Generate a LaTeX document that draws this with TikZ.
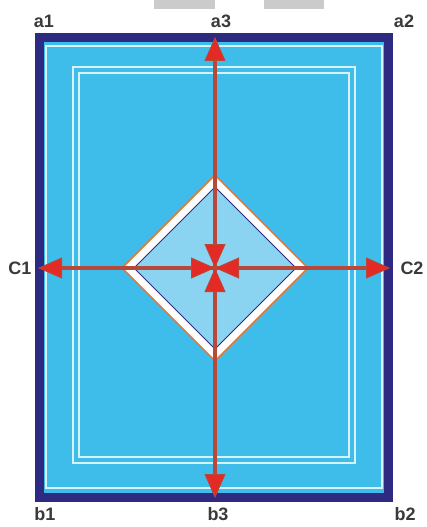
\documentclass[tikz,border=0pt]{standalone}
\usepackage{fontspec}
\setmainfont{Liberation Sans}
\usetikzlibrary{arrows.meta,positioning}
\usepackage{xcolor}
\definecolor{framenavy}{HTML}{2E2A82}
\definecolor{fieldblue}{HTML}{3EBDEA}
\definecolor{paleblue}{HTML}{8AD3F1}
\definecolor{lineglow}{HTML}{D8F2FB}
\definecolor{rimorange}{HTML}{DD7A3A}
\definecolor{raybrown}{HTML}{B8483A}
\definecolor{rayred}{HTML}{E42A24}
\definecolor{labelgray}{HTML}{3A3A3A}
\definecolor{tabgray}{HTML}{CBCBCB}

\begin{document}
\begin{tikzpicture}[
  x=1pt, y=-1pt,
  lbl/.style={font=\fontsize{18}{18}\selectfont\bfseries, text=labelgray, inner sep=0pt},
  ray/.style={line width=3.2pt, draw=raybrown, -{Triangle[length=24pt,width=21pt,line width=0.8pt,fill=rayred]}},
  glow/.style={draw=lineglow, line width=1.4pt}
]
\useasboundingbox[fill=white] (0,0) rectangle (426,527);
% tabs at the top edge
\fill[tabgray] (154,0) rectangle (215,9);
\fill[tabgray] (264,0) rectangle (324,9);

% frame
\draw[fill=fieldblue, draw=framenavy, line width=9pt] (39.5,37.5) rectangle (388.5,497.5);
\draw[glow] (46,46) rectangle (382,488);
\draw[glow] (73,67) rectangle (355,463);
\draw[glow] (79,73) rectangle (349,457);

% points
\coordinate (o) at (215,268);
\coordinate (a3tip) at (215,37);
\coordinate (b3tip) at (215,498);
\coordinate (c1tip) at (38,268);
\coordinate (c2tip) at (390,268);
\coordinate (dtop) at (215,175);
\coordinate (dbot) at (215,361);
\coordinate (dleft) at (122,268);
\coordinate (dright) at (308,268);

% diamond
\draw[fill=white, draw=rimorange, line width=1.6pt]
  (dtop) -- (dright) -- (dbot) -- (dleft) -- cycle;
\draw[fill=paleblue, draw=framenavy, line width=1pt]
  (215,187) -- (296,268) -- (215,349) -- (134,268) -- cycle;

% rays
\draw[ray] (o) -- (a3tip);
\draw[ray] (o) -- (b3tip);
\draw[ray] (o) -- (c1tip);
\draw[ray] (o) -- (c2tip);
\draw[ray] (dtop) -- (o);
\draw[ray] (dbot) -- (o);
\draw[ray] (dleft) -- (o);
\draw[ray] (dright) -- (o);

% labels
\node[lbl] (a1) at (44,21) {a1};
\node[lbl] (a3) at (221,21) {a3};
\node[lbl] (a2) at (404,21) {a2};
\node[lbl] (b1) at (45,514) {b1};
\node[lbl] (b3) at (218,514) {b3};
\node[lbl] (b2) at (405,514) {b2};
\node[lbl] (c1) at (20,268) {C1};
\node[lbl] (c2) at (412,268) {C2};
\end{tikzpicture}
\end{document}
